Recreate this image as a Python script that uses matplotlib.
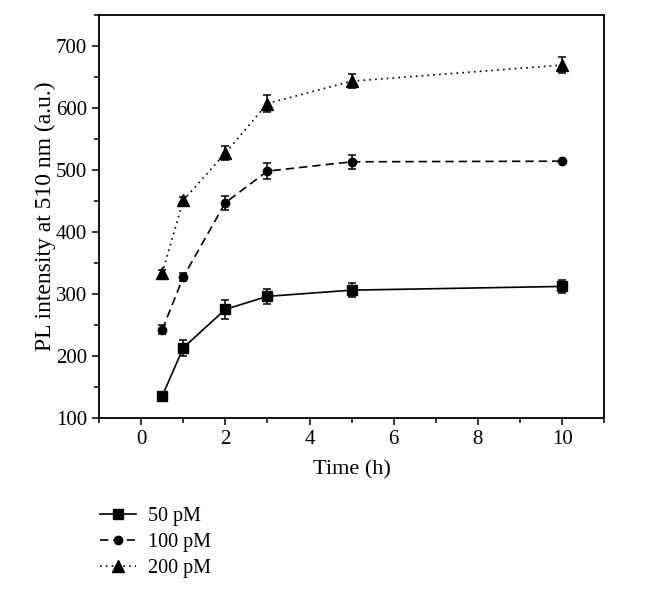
import matplotlib.pyplot as plt
from matplotlib.lines import Line2D
from matplotlib.ticker import MultipleLocator

plt.rcParams['font.family'] = ['Liberation Serif', 'DejaVu Serif']

time_h = [0.5, 1, 2, 3, 5, 10]
pl_50 = [135, 213, 275, 296, 306, 312]
err_50 = [5, 13, 15, 12, 11, 10]
pl_100 = [242, 327, 447, 498, 513, 514]
err_100 = [7, 6, 11, 13, 11, 2]
pl_200 = [333, 451, 527, 607, 643, 669]
err_200 = [5, 5, 11, 13, 11, 13]
labels = ["50 pM", "100 pM", "200 pM"]

fig = plt.figure(figsize=(6.56, 5.94), dpi=100)
ax = fig.add_axes([0.151, 0.2965, 0.77, 0.6785])

common = dict(color='black', ecolor='black', elinewidth=1.1, capsize=2.8,
              capthick=1.1, linewidth=1.2)
styles = [('s', 6.5, '-'), ('o', 6, (0, (5, 3))), ('^', 8.5, (0, (1, 2.5)))]
series = [(pl_50, err_50), (pl_100, err_100), (pl_200, err_200)]

handles = []
for (vals, errs), (mk, ms, ls), lab in zip(series, styles, labels):
    ax.errorbar(time_h, vals, yerr=errs, marker=mk, markersize=ms,
                linestyle=ls, **common)
    handles.append(Line2D([], [], color='black', marker=mk, markersize=ms,
                          linestyle=ls, linewidth=1.2, label=lab))

ax.set_xlim(-1, 11)
ax.set_ylim(100, 750)
ax.xaxis.set_major_locator(MultipleLocator(2))
ax.xaxis.set_minor_locator(MultipleLocator(1))
ax.yaxis.set_minor_locator(MultipleLocator(50))
ax.set_yticks(range(100, 701, 100))
ax.tick_params(which='major', direction='out', length=5, width=1.1, labelsize=15)
ax.tick_params(which='minor', direction='out', length=3.5, width=1.1)
for s in ax.spines.values():
    s.set_linewidth(1.3)

ax.set_xlabel("Time (h)", fontsize=16, labelpad=8)
ax.set_ylabel("PL intensity at 510 nm (a.u.)", fontsize=17, labelpad=0)

fig.legend(handles=handles, loc='upper left', bbox_to_anchor=(0.125, 0.177),
           frameon=False, fontsize=14.5, handlelength=1.8, labelspacing=0.35,
           handletextpad=0.6)

fig.savefig("out.png", dpi=100)
